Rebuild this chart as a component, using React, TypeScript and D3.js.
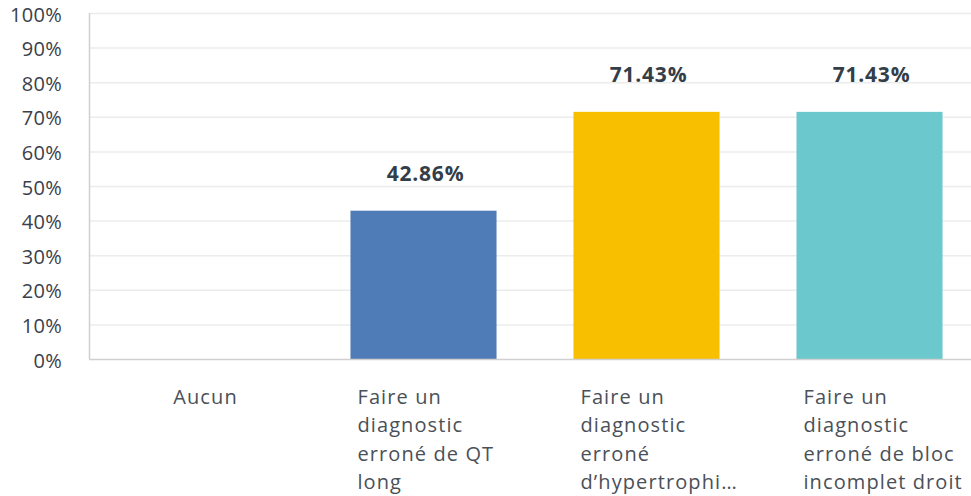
import * as d3 from 'd3';
import React, { useEffect, useRef } from 'react';

// categories (each label already split into its displayed lines)
const categories = ['Aucun', 'QT long', 'hypertrophie', 'bloc incomplet droit'];
const categoryLines = [
  ['Aucun'],
  ['Faire un', 'diagnostic', 'erroné de QT', 'long'],
  ['Faire un', 'diagnostic', 'erroné', 'd\u2019hypertrophi\u2026'],
  ['Faire un', 'diagnostic', 'erroné de bloc', 'incomplet droit'],
];
const values = [0, 42.86, 71.43, 71.43];
const barColors = ['#4f7cb6', '#f7bf00', '#6bc8cc'];
const yTicks = [0, 10, 20, 30, 40, 50, 60, 70, 80, 90, 100];

const W = 971;
const H = 496;
const FONT = '"Open Sans", sans-serif';

const App = () => {
  const ref = useRef<SVGSVGElement>(null);

  useEffect(() => {
    if (!ref.current) return;
    const svg = d3.select(ref.current);
    svg.selectAll('*').remove();

    const left = 89, top = 13, bottom = 359;

    const x = d3.scaleBand<string>()
      .domain(categories)
      .range([left, 981])
      .paddingInner(0.345)
      .paddingOuter(0.1725);

    const y = d3.scaleLinear().domain([0, 100]).range([bottom, top]);

    // gridlines
    svg.append('g')
      .selectAll('line')
      .data(yTicks.filter(t => t > 0))
      .join('line')
      .attr('x1', left)
      .attr('x2', W)
      .attr('y1', d => y(d) + 0.5)
      .attr('y2', d => y(d) + 0.5)
      .attr('stroke', '#ececec')
      .attr('stroke-width', 1.5);

    // tick labels
    svg.append('g')
      .selectAll('text')
      .data(yTicks)
      .join('text')
      .attr('x', 62)
      .attr('y', d => y(d) + 1)
      .attr('text-anchor', 'end')
      .attr('dominant-baseline', 'central')
      .attr('font-family', FONT)
      .attr('font-size', 20)
      .attr('letter-spacing', 0.3)
      .attr('fill', '#3a4149')
      .text(d => `${d}%`);

    // bars
    const idx = categories.map((c, i) => i).filter(i => values[i] > 0);
    svg.append('g')
      .selectAll('rect')
      .data(idx)
      .join('rect')
      .attr('x', i => x(categories[i])!)
      .attr('width', x.bandwidth())
      .attr('y', i => y(values[i]))
      .attr('height', i => bottom - y(values[i]))
      .attr('fill', (i, k) => barColors[k]);

    // value labels
    svg.append('g')
      .selectAll('text')
      .data(idx)
      .join('text')
      .attr('x', i => x(categories[i])! + x.bandwidth() / 2 + 2)
      .attr('y', i => y(values[i]) - 30)
      .attr('text-anchor', 'middle')
      .attr('font-family', FONT)
      .attr('font-size', 21)
      .attr('font-weight', 700)
      .attr('letter-spacing', 0.8)
      .attr('fill', '#333e48')
      .text(i => `${values[i].toFixed(2)}%`);

    // axes lines
    svg.append('line')
      .attr('x1', left + 0.5).attr('x2', left + 0.5)
      .attr('y1', top).attr('y2', bottom)
      .attr('stroke', '#d0d0d0').attr('stroke-width', 1.5);
    svg.append('line')
      .attr('x1', left).attr('x2', W)
      .attr('y1', bottom + 0.5).attr('y2', bottom + 0.5)
      .attr('stroke', '#d0d0d0').attr('stroke-width', 1.5);

    // category labels
    const labelX = (d: string, i: number) =>
      categoryLines[i].length > 1 ? x(d)! + 7 : x(d)! + x.bandwidth() / 2 + 5;

    const lab = svg.append('g')
      .selectAll('text')
      .data(categories)
      .join('text')
      .attr('font-family', FONT)
      .attr('font-size', 20)
      .attr('letter-spacing', 1.1)
      .attr('fill', '#4a5058')
      .attr('text-anchor', (d, i) => (categoryLines[i].length > 1 ? 'start' : 'middle'));

    lab.selectAll('tspan')
      .data((d, i) => categoryLines[i].map(line => ({ line, d, i })))
      .join('tspan')
      .attr('x', o => labelX(o.d, o.i))
      .attr('y', (o, k) => 404 + k * 28.4)
      .text(o => o.line);
  }, []);

  return (
    <svg
      ref={ref}
      width={W}
      height={H}
      style={{ position: 'absolute', left: 0, top: 0, background: '#fff' }}
    />
  );
};

export default App;
